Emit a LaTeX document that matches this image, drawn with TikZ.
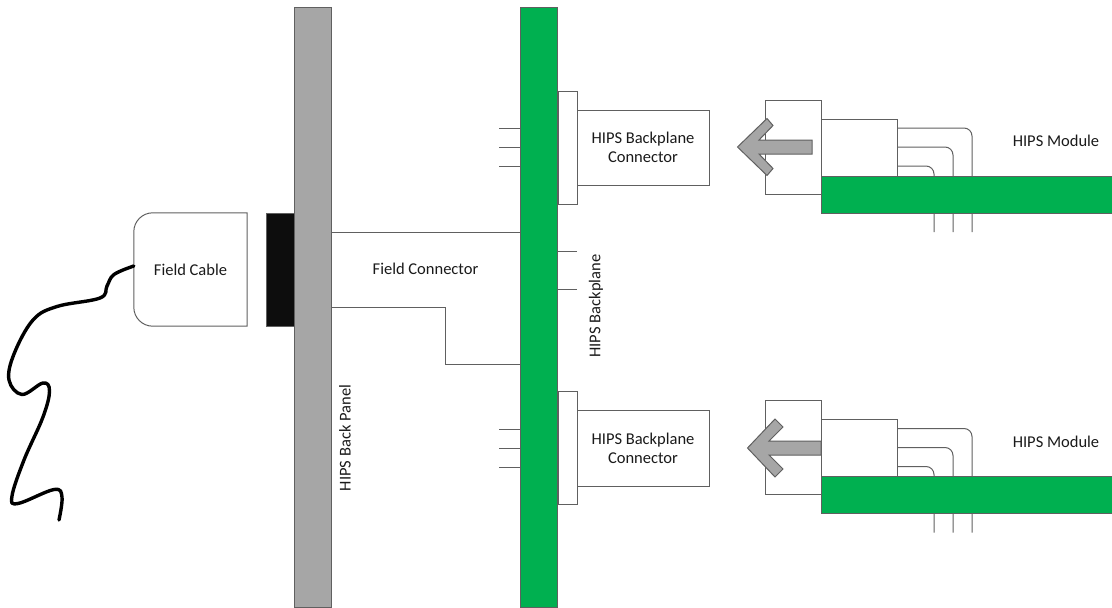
\documentclass[tikz,border=0pt]{standalone}
\usepackage{fontspec}
\setmainfont{Carlito}
\usetikzlibrary{positioning,calc}
\definecolor{ink}{HTML}{1A1A1A}
\definecolor{greyLine}{HTML}{606060}
\definecolor{panelC}{HTML}{A6A6A6}
\definecolor{boardC}{HTML}{00B050}
\definecolor{blockC}{HTML}{0D0D0D}
\tikzset{
  part/.style={draw=greyLine,line width=1pt,fill=white,inner sep=0pt,outer sep=0pt,
    font=\fontsize{16.5}{19}\selectfont,text=ink,align=center},
  bar/.style={part,fill=panelC,minimum width=37.5pt,minimum height=600pt},
  board/.style={part,fill=boardC},
  wirelab/.style={font=\fontsize{16.5}{19}\selectfont,text=ink,align=center,inner sep=0pt},
  thinwire/.style={draw=greyLine,line width=1pt},
  cablewire/.style={draw=black,line width=3.4pt,line cap=round,line join=round},
  blockarrow/.style={draw=greyLine,line width=1pt,fill=panelC,line join=miter}}

\begin{document}
\begin{tikzpicture}[x=1pt,y=-1pt]
\useasboundingbox (0,0) rectangle (1112,608);
% back panel and backplane
\node[bar] (panel) at (313,307) {};
\node[bar,fill=boardC] (plane) at (539,307) {};
\node[part,fill=blockC,minimum width=28pt,minimum height=113pt] (gland) at (280,269.5) {};
\node[wirelab,rotate=90] (panelLab) at (345,438) {HIPS Back Panel};
\node[wirelab,rotate=90] (planeLab) at (596,306) {HIPS Backplane};
% field cable
\node[wirelab,minimum width=113pt,minimum height=113pt] (cable) at (190.5,269.5) {Field Cable};
\draw[thinwire,rounded corners=19pt] (cable.north east) -- (cable.north west) -- (cable.south west)
  [sharp corners] -- (cable.south east) -- cycle;
\draw[cablewire] plot[smooth,tension=0.62] coordinates {([yshift=3.5pt]cable.west) (114,274.5) (107,286) (100,298)
  (57,306.5) (33,320) (14,354) (9,380) (22,394.5) (43,383) (49.5,391) (43,417) (24,460) (12,496) (18,503.5)
  (54,489.5) (62,497) (59,520)};
% field connector
\coordinate (fcA) at (445,307);
\coordinate (fcB) at (445,364);
\draw[thinwire] (panel.east |- 0,232) -- (plane.west |- 0,232);
\draw[thinwire] (panel.east |- fcA) -- (fcA) -- (fcB) -- (plane.west |- fcB);
\node[wirelab] (fieldLab) at (425.5,269) {Field Connector};
% stubs on the backplane
\foreach \sy in {128,147,166,429,448,467}{
  \coordinate (st\sy) at (499,\sy);
  \draw[thinwire] (st\sy) -- (st\sy -| plane.west);}
\foreach \sy in {251,289}{
  \coordinate (st\sy) at (577,\sy);
  \draw[thinwire] (st\sy) -- (st\sy -| plane.east);}
% backplane connectors
\node[part,minimum width=19pt,minimum height=113pt] (shroudA) at (567.5,147.5) {};
\node[part,minimum width=132pt,minimum height=75pt] (connA) at (643,147.5) {HIPS Backplane\\Connector};
\node[part,minimum width=19pt,minimum height=113pt] (shroudB) at (567.5,447.5) {};
\node[part,minimum width=132pt,minimum height=76pt] (connB) at (643,448) {HIPS Backplane\\Connector};
% modules
\foreach \nm/\dy in {A/0,B/300.5}{
  \node[part,minimum width=56pt,minimum height=94pt] (shell\nm) at (793,147+\dy) {};
  \node[part,minimum width=76pt,minimum height=57pt] (head\nm) at (859,147.5+\dy) {};
  \coordinate (pinA\nm) at (934,232+\dy);
  \coordinate (pinB\nm) at (953,232+\dy);
  \coordinate (pinC\nm) at (972,232+\dy);
  \draw[thinwire,rounded corners=8pt] ($(head\nm.east)+(0,-19.5)$) -| (pinC\nm);
  \draw[thinwire,rounded corners=8pt] ($(head\nm.east)+(0,-0.5)$) -| (pinB\nm);
  \draw[thinwire,rounded corners=8pt] ($(head\nm.east)+(0,18.5)$) -| (pinA\nm);
  \node[board,anchor=north west,minimum width=291pt,minimum height=37pt] (card\nm) at (821,176+\dy) {};
  \node[wirelab] (modLab\nm) at (1056,141+\dy) {HIPS Module};
}
% insertion arrows
\draw[blockarrow] (737.5,147) -- (767,118.5) -- (773,125.5) -- (759,140) -- (812,140) -- (812,154)
  -- (759,154) -- (773,168.5) -- (767,175.5) -- cycle;
\draw[blockarrow] (747.5,448) -- (775,419) -- (783,427) -- (769,441) -- (821,441) -- (821,455)
  -- (769,455) -- (783,469) -- (775,477) -- cycle;
\end{tikzpicture}
\end{document}
